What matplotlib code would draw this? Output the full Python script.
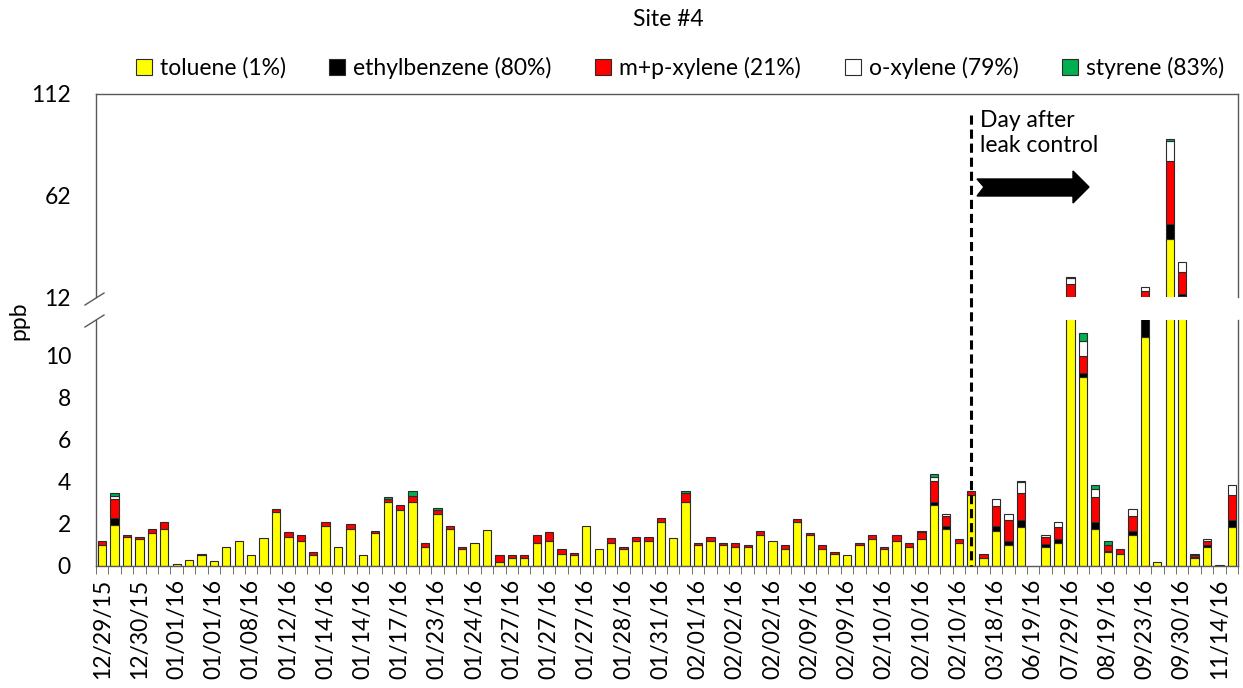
# -*- coding: utf-8 -*-
"""Site #4 stacked VOC bars with a broken y axis"""
import matplotlib.pyplot as plt
import numpy as np
from matplotlib import transforms
from matplotlib.lines import Line2D
from matplotlib.patches import Patch, Polygon

plt.rcParams["font.family"] = ["Lato", "DejaVu Sans"]

# tick labels, one every third sample
dates = [
    "12/29/15", "12/30/15", "01/01/16", "01/01/16", "01/08/16", "01/12/16",
    "01/14/16", "01/14/16", "01/17/16", "01/23/16", "01/24/16", "01/27/16",
    "01/27/16", "01/27/16", "01/28/16", "01/31/16", "02/01/16", "02/02/16",
    "02/02/16", "02/09/16", "02/09/16", "02/10/16", "02/10/16", "02/10/16",
    "03/18/16", "06/19/16", "07/29/16", "08/19/16", "09/23/16", "09/30/16",
    "11/14/16",
]

toluene = [
    1.00, 1.95, 1.38, 1.29, 1.59, 1.76, 0.08, 0.30, 0.51, 0.22,
    0.89, 1.17, 0.51, 1.32, 2.56, 1.38, 1.17, 0.51, 1.89, 0.89,
    1.76, 0.51, 1.59, 3.06, 2.68, 3.06, 0.89, 2.46, 1.76, 0.79,
    1.10, 1.70, 0.21, 0.38, 0.38, 1.08, 1.17, 0.59, 0.51, 1.89,
    0.79, 1.08, 0.79, 1.17, 1.17, 2.10, 1.32, 3.06, 1.00, 1.17,
    1.00, 0.89, 0.89, 1.46, 1.17, 0.79, 2.10, 1.46, 0.79, 0.59,
    0.51, 1.00, 1.30, 0.79, 1.17, 0.89, 1.30, 2.89, 1.76, 1.08,
    3.37, 0.37, 1.67, 1.00, 1.87, 0.00, 0.89, 1.08, 12.0, 9.02,
    1.75, 0.67, 0.59, 1.46, 10.89, 0.20, 40.4, 12.6, 0.37, 0.89,
    0.04, 1.87,
]
ethylbenzene = [
    0, 0.32, 0, 0, 0, 0, 0, 0, 0, 0,
    0, 0, 0, 0, 0, 0, 0, 0, 0, 0,
    0, 0, 0, 0, 0, 0, 0, 0, 0, 0,
    0, 0, 0, 0, 0, 0, 0, 0, 0, 0,
    0, 0, 0, 0, 0, 0, 0, 0, 0, 0,
    0, 0, 0, 0, 0, 0, 0, 0, 0, 0,
    0, 0, 0, 0, 0, 0, 0, 0.17, 0.14, 0,
    0, 0, 0.24, 0.19, 0.32, 0, 0.14, 0.22, 0, 0.19,
    0.35, 0.05, 0, 0.22, 1.11, 0, 7.6, 0.9, 0.05, 0.11,
    0, 0.32,
]
mp_xylene = [
    0.17, 0.90, 0.10, 0.10, 0.19, 0.33, 0, 0, 0.08, 0,
    0, 0, 0, 0, 0.14, 0.22, 0.30, 0.17, 0.22, 0,
    0.22, 0, 0.10, 0.11, 0.21, 0.29, 0.21, 0.22, 0.13, 0.10,
    0, 0, 0.30, 0.13, 0.13, 0.40, 0.43, 0.20, 0.10, 0,
    0, 0.24, 0.10, 0.22, 0.22, 0.17, 0, 0.40, 0.10, 0.22,
    0.10, 0.21, 0.11, 0.22, 0, 0.21, 0.16, 0.13, 0.21, 0.08,
    0, 0.10, 0.17, 0.10, 0.30, 0.21, 0.30, 0.98, 0.48, 0.22,
    0.19, 0.22, 0.97, 1.00, 1.29, 0, 0.35, 0.57, 6.3, 0.79,
    1.17, 0.30, 0.21, 0.70, 3.0, 0, 30.8, 11.0, 0.10, 0.19,
    0, 1.17,
]
o_xylene = [
    0, 0.16, 0, 0, 0, 0, 0, 0, 0, 0,
    0, 0, 0, 0, 0, 0, 0, 0, 0, 0,
    0, 0, 0, 0, 0, 0, 0, 0, 0, 0,
    0, 0, 0, 0, 0, 0, 0, 0, 0, 0,
    0, 0, 0, 0, 0, 0, 0, 0, 0, 0,
    0, 0, 0, 0, 0, 0, 0, 0, 0, 0,
    0, 0, 0, 0, 0, 0, 0, 0.21, 0.10, 0,
    0, 0, 0.30, 0.29, 0.51, 0, 0.08, 0.22, 2.9, 0.71,
    0.40, 0, 0, 0.32, 1.7, 0, 10.2, 4.6, 0.03, 0.11,
    0, 0.49,
]
styrene = [
    0, 0.14, 0, 0, 0, 0, 0, 0, 0, 0,
    0, 0, 0, 0, 0, 0, 0, 0, 0, 0,
    0, 0, 0, 0.10, 0, 0.21, 0, 0.10, 0, 0,
    0, 0, 0, 0, 0, 0, 0, 0, 0, 0,
    0, 0, 0, 0, 0, 0, 0, 0.11, 0, 0,
    0, 0, 0, 0, 0, 0, 0, 0, 0, 0,
    0, 0, 0, 0, 0, 0, 0.08, 0.11, 0, 0,
    0, 0, 0, 0, 0.08, 0, 0, 0, 0.8, 0.37,
    0.19, 0.16, 0, 0, 0, 0, 1.0, 0, 0, 0,
    0, 0,
]

series = [
    ("toluene (1%)", toluene, "#FFFF00"),
    ("ethylbenzene (80%)", ethylbenzene, "#000000"),
    ("m+p-xylene (21%)", mp_xylene, "#FF0000"),
    ("o-xylene (79%)", o_xylene, "#FFFFFF"),
    ("styrene (83%)", styrene, "#00B050"),
]
leak_idx = 70

W, H = 1243, 688
FS = 16.5
SPINE = "#595959"


def fx(px):
    return px / W


def fy(py):
    return 1 - py / H


fig = plt.figure(figsize=(W / 100, H / 100), dpi=100)
left, width = fx(96), (1238 - 96) / W
ax_hi = fig.add_axes([left, fy(297), width, (297 - 94) / H])
ax_lo = fig.add_axes([left, fy(566), width, (566 - 320) / H])

n = len(toluene)
x = np.arange(n)

for ax in (ax_lo, ax_hi):
    bottom = np.zeros(n)
    for label, vals, color in series:
        vals = np.asarray(vals, dtype=float)
        lw = np.where(vals > 0, 0.8, 0.0)
        ax.bar(x, vals, 0.67, bottom=bottom, color=color,
               edgecolor="#2b2b2b", linewidth=lw, zorder=2)
        bottom += vals
    ax.set_xlim(-0.5, n - 0.5)
    for s in ax.spines.values():
        s.set_color(SPINE)
        s.set_linewidth(1.0)
    ax.tick_params(axis="y", length=0, pad=18, labelsize=FS)

ax_lo.set_ylim(0, 246 / 21)
ax_lo.set_yticks([0, 2, 4, 6, 8, 10])
ax_lo.spines["top"].set_visible(False)
ax_lo.set_xticks(np.arange(0, n, 3))
ax_lo.set_xticklabels(dates, rotation=90, fontsize=FS)
ax_lo.set_xticks(np.arange(-0.5, n, 1), minor=True)
ax_lo.tick_params(axis="x", which="major", length=0, pad=9)
ax_lo.tick_params(axis="x", which="minor", length=6, color=SPINE)

ax_hi.set_ylim(12, 112)
ax_hi.set_yticks([12, 62, 112])
ax_hi.spines["bottom"].set_visible(False)
ax_hi.set_xticks([])

# break marks on the left axis
for y0 in (305, 327):
    fig.add_artist(Line2D([fx(85), fx(104)], [fy(y0), fy(y0 - 12)],
                          color=SPINE, lw=1.0))

# leak control marker
trans = transforms.blended_transform_factory(ax_lo.transData, fig.transFigure)
fig.add_artist(Line2D([leak_idx, leak_idx], [fy(115), fy(566)], transform=trans,
                      color="black", lw=2.2, linestyle=(0, (3, 1.6)), zorder=5))
fig.text(fx(980), fy(110), "Day after\nleak control", fontsize=FS,
         ha="left", va="top", linespacing=1.25)
arrow = [(977, 179), (984, 187), (977, 196), (1073, 196), (1073, 203),
         (1089, 187), (1073, 171), (1073, 179)]
fig.add_artist(Polygon([(fx(a), fy(b)) for a, b in arrow], closed=True,
                       facecolor="black", edgecolor="black",
                       transform=fig.transFigure))

fig.text(fx(19), fy(321), "ppb", rotation=90, fontsize=FS, ha="center", va="center")
fig.text(fx(668), fy(20), "Site #4", fontsize=FS, ha="center", va="center")

handles = [Patch(facecolor=c, edgecolor="#2b2b2b", linewidth=0.8) for _, _, c in series]
fig.legend(handles, [s[0] for s in series], loc="center",
           bbox_to_anchor=(fx(680), fy(68)), ncol=5, frameon=False,
           fontsize=FS, handlelength=0.7, handleheight=0.7,
           handletextpad=0.35, columnspacing=1.9)

fig.savefig("out.png", dpi=100)
